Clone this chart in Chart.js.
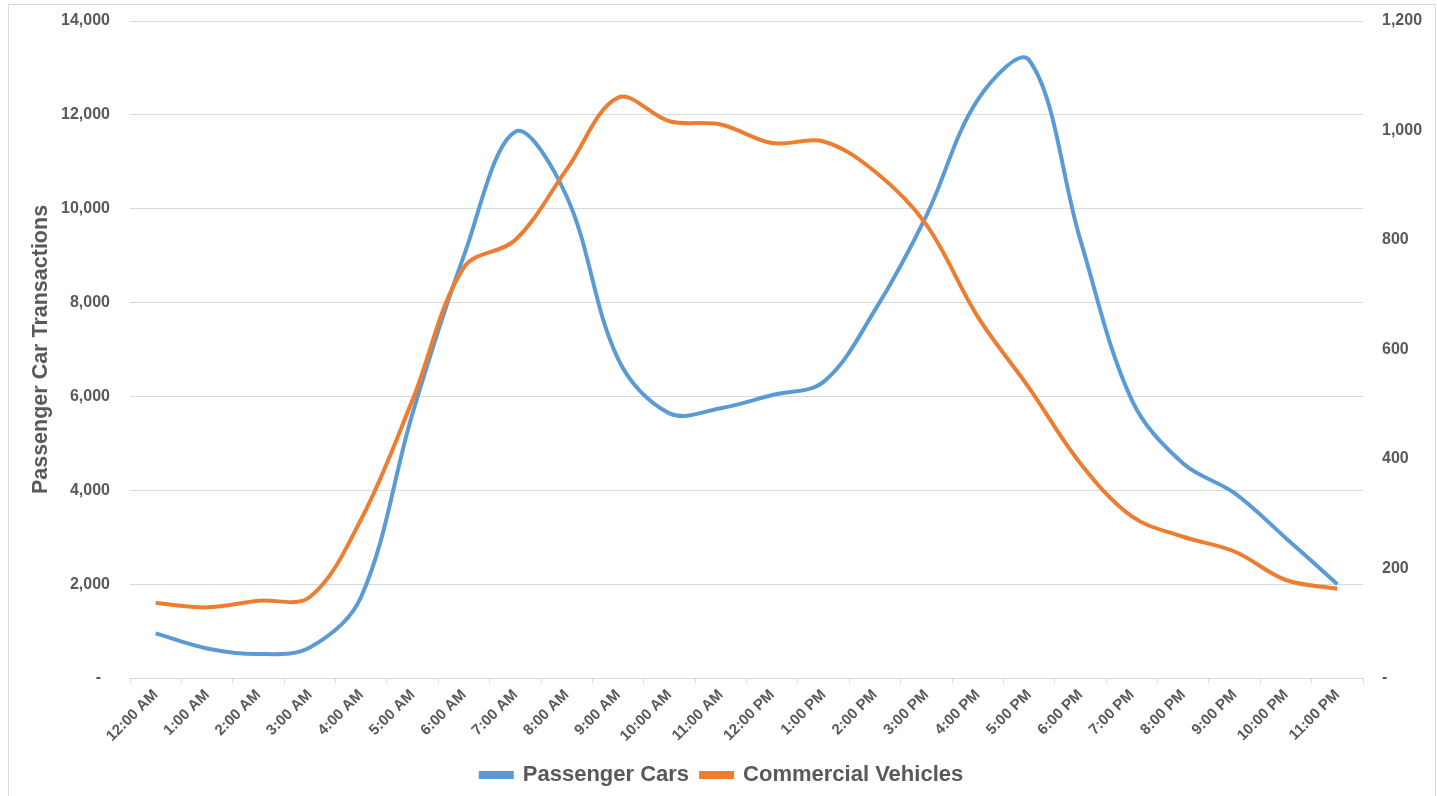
<!DOCTYPE html>
<html>
<head>
<meta charset="utf-8">
<script src="https://cdn.jsdelivr.net/npm/chart.js@4.4.1/dist/chart.umd.min.js"></script>
<style>
  body { margin: 0; background: #fff; }
  #frame {
    position: absolute; left: 8px; top: 4px;
    width: 1426px; height: 791px;
    border: 1px solid #d9d9d9;
  }
</style>
</head>
<body>
<div id="frame"><canvas id="trafficChart"></canvas></div>
<script>
// 시간대 라벨
const timeLabels = [
  "12:00 AM", "1:00 AM", "2:00 AM", "3:00 AM", "4:00 AM", "5:00 AM",
  "6:00 AM", "7:00 AM", "8:00 AM", "9:00 AM", "10:00 AM", "11:00 AM",
  "12:00 PM", "1:00 PM", "2:00 PM", "3:00 PM", "4:00 PM", "5:00 PM",
  "6:00 PM", "7:00 PM", "8:00 PM", "9:00 PM", "10:00 PM", "11:00 PM",
];

// 승용차 (왼쪽 축)
const passengerCars = [
  950, 630, 510, 650, 1730, 5640, 9000, 11640, 10260, 6800, 5640, 5750,
  6030, 6310, 7840, 9850, 12320, 13170, 9330, 5920, 4570, 3940, 2980, 2000,
];

// 상용차 (오른쪽 축)
const commercialVehicles = [
  137, 129, 141, 148, 290, 508, 750, 800, 929, 1060, 1017, 1011,
  977, 980, 925, 828, 660, 530, 392, 295, 258, 231, 179, 163,
];

const leftAxisMax = 14000;
const leftAxisStep = 2000;
const rightAxisMax = 1200;
const rightAxisStep = 200;

const textColor = "#595959";
const lineGray = "#d9d9d9";
const fontFamily = "'Liberation Sans', Arial, sans-serif";

const ctx = document.getElementById("trafficChart");

new Chart(ctx, {
  type: "line",
  data: {
    labels: timeLabels,
    datasets: [
      {
        label: "Passenger Cars",
        data: passengerCars,
        yAxisID: "y",
        borderColor: "#5B9BD5",
        backgroundColor: "#5B9BD5",
        borderWidth: 4,
        pointRadius: 0,
        tension: 0.35,
        order: 1,
      },
      {
        label: "Commercial Vehicles",
        data: commercialVehicles,
        yAxisID: "y1",
        borderColor: "#ED7D31",
        backgroundColor: "#ED7D31",
        borderWidth: 4,
        pointRadius: 0,
        tension: 0.35,
        order: 0, // 주황 선이 위에 그려지도록
      },
    ],
  },
  options: {
    responsive: true,
    maintainAspectRatio: false,
    animation: false,
    layout: { padding: { top: 16, left: 0, right: 0, bottom: 0 } },
    plugins: {
      tooltip: { enabled: false },
      legend: {
        position: "bottom",
        labels: {
          sort: (a, b) => a.datasetIndex - b.datasetIndex,
          boxWidth: 31,
          boxHeight: 4,
          padding: 12,
          color: textColor,
          font: { family: fontFamily, size: 22, weight: "bold" },
        },
      },
    },
    scales: {
      x: {
        offset: true,
        grid: {
          offset: true,
          drawOnChartArea: false,
          drawTicks: true,
          tickLength: 5,
          color: lineGray,
        },
        border: { display: true, color: lineGray },
        ticks: {
          autoSkip: false,
          minRotation: 45,
          maxRotation: 45,
          padding: 3,
          color: textColor,
          font: { family: fontFamily, size: 15, weight: "bold" },
        },
        afterFit(scale) { scale.height = 74; },
      },
      y: {
        position: "left",
        min: 0,
        max: leftAxisMax,
        // 눈금 간격은 투명한 tick으로 확보 (padding을 쓰면 위쪽 여백이 커짐)
        grid: { color: lineGray, drawTicks: true, tickLength: 20, tickColor: "rgba(0,0,0,0)" },
        border: { display: false },
        ticks: {
          stepSize: leftAxisStep,
          padding: 0,
          color: textColor,
          font: { family: fontFamily, size: 16, weight: "bold" },
          callback: (value) => (value === 0 ? "-  " : value.toLocaleString("en-US")),
        },
        title: {
          display: true,
          text: "Passenger Car Transactions",
          color: textColor,
          padding: { top: 19, bottom: 0 },
          font: { family: fontFamily, size: 21.5, weight: "bold" },
        },
        afterFit(scale) { scale.width = 121; },
      },
      y1: {
        position: "right",
        min: 0,
        max: rightAxisMax,
        grid: { drawOnChartArea: false, drawTicks: true, tickLength: 19, tickColor: "rgba(0,0,0,0)" },
        border: { display: false },
        ticks: {
          stepSize: rightAxisStep,
          padding: 0,
          color: textColor,
          font: { family: fontFamily, size: 16, weight: "bold" },
          callback: (value) => (value === 0 ? "-" : value.toLocaleString("en-US")),
        },
        afterFit(scale) { scale.width = 72; },
      },
    },
  },
});
</script>
</body>
</html>
